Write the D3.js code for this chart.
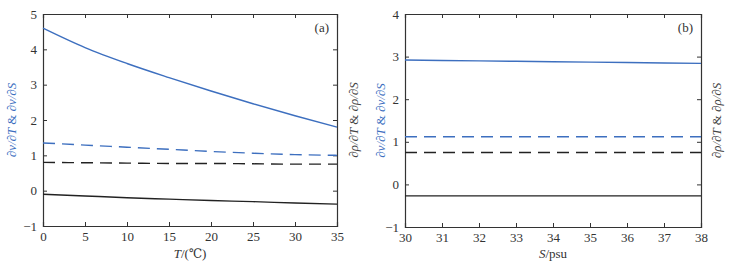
<!DOCTYPE html>
<html>
<head>
<meta charset="utf-8">
<script src="https://cdn.jsdelivr.net/npm/d3@7"></script>
<style>
  body { margin: 0; background: #fff; }
  svg text { font-family: "Liberation Serif", "DejaVu Serif Condensed", serif; font-stretch: condensed; }
</style>
</head>
<body>
<div id="chart"></div>
<script>
// panel (a): temperature
const tempValues = [0, 5, 10, 15, 20, 25, 30, 35];
const dvSolidA = [4.6, 4.05, 3.6, 3.2, 2.82, 2.46, 2.12, 1.8];
const dvDashA = [1.35, 1.29, 1.23, 1.17, 1.11, 1.06, 1.02, 1.0];
const drhoDashA = [0.8, 0.79, 0.78, 0.77, 0.77, 0.76, 0.75, 0.75];
const drhoSolidA = [-0.1, -0.15, -0.2, -0.24, -0.28, -0.31, -0.35, -0.38];
const tempTicks = [0, 5, 10, 15, 20, 25, 30, 35];
const yTicksA = [-1, 0, 1, 2, 3, 4, 5];

// panel (b): salinity
const salValues = [30, 32, 34, 36, 38];
const dvSolidB = [2.92, 2.9, 2.88, 2.86, 2.84];
const dvDashB = [1.12, 1.12, 1.12, 1.12, 1.12];
const drhoDashB = [0.75, 0.75, 0.75, 0.75, 0.75];
const drhoSolidB = [-0.27, -0.27, -0.27, -0.27, -0.27];
const salTicks = [30, 31, 32, 33, 34, 35, 36, 37, 38];
const yTicksB = [-1, 0, 1, 2, 3, 4];

const blue = '#3d6fbf';
const black = '#222';
const serif = '"Liberation Serif", "DejaVu Serif Condensed", serif';

const svg = d3.select('#chart')
  .append('svg')
  .attr('width', 738)
  .attr('height', 267);

function drawPanel(opt) {
  const x = d3.scaleLinear().domain(opt.xDomain).range([opt.left, opt.right]);
  const y = d3.scaleLinear().domain(opt.yDomain).range([opt.bottom, opt.top]);
  const g = svg.append('g');

  // 坐标轴（刻度朝内，四边都有）
  const tickLen = 4;
  g.append('g')
    .attr('transform', `translate(0,${opt.bottom})`)
    .call(d3.axisBottom(x).tickValues(opt.xTicks).tickSize(-tickLen).tickPadding(6).tickFormat(d3.format('d')));
  g.append('g')
    .attr('transform', `translate(0,${opt.top})`)
    .call(d3.axisTop(x).tickValues(opt.xTicks).tickSize(-tickLen).tickFormat(''));
  g.append('g')
    .attr('transform', `translate(${opt.left},0)`)
    .call(d3.axisLeft(y).tickValues(opt.yTicks).tickSize(-tickLen).tickPadding(6).tickFormat(d3.format('d')));
  g.append('g')
    .attr('transform', `translate(${opt.right},0)`)
    .call(d3.axisRight(y).tickValues(opt.yTicks).tickSize(-tickLen).tickFormat(''));

  g.selectAll('g').attr('font-family', serif);
  g.selectAll('.domain').attr('stroke', '#333').attr('stroke-width', 1.2);
  g.selectAll('.tick line').attr('stroke', '#333');
  g.selectAll('.tick text')
    .attr('fill', '#333')
    .style('font-size', '13px')
    .style('font-family', serif);

  const line = d3.line()
    .x(d => x(d[0]))
    .y(d => y(d[1]))
    .curve(d3.curveMonotoneX);

  opt.series.forEach(s => {
    g.append('path')
      .datum(opt.xValues.map((v, i) => [v, s.values[i]]))
      .attr('d', line)
      .attr('fill', 'none')
      .attr('stroke', s.color)
      .attr('stroke-width', 1.4)
      .attr('stroke-dasharray', s.dashed ? '12,7' : null);
  });

  // 面板标签
  g.append('text')
    .attr('x', opt.right - 8)
    .attr('y', opt.top + 18)
    .attr('text-anchor', 'end')
    .attr('fill', '#333')
    .style('font-size', '13px')
    .text(opt.panel);

  // x 轴标题
  const xl = g.append('text')
    .attr('x', (opt.left + opt.right) / 2)
    .attr('y', 258)
    .attr('text-anchor', 'middle')
    .attr('fill', '#333')
    .style('font-size', '13px');
  xl.append('tspan').style('font-style', 'italic').text(opt.xVar);
  xl.append('tspan').text(opt.xUnit);

  // 左右 y 轴标题
  const midY = (opt.top + opt.bottom) / 2;
  function yLabel(xPos, sym, color) {
    const t = g.append('text')
      .attr('transform', `translate(${xPos},${midY}) rotate(-90)`)
      .attr('text-anchor', 'middle')
      .attr('fill', color)
      .style('font-size', '13px')
      .style('font-style', 'italic');
    t.append('tspan').text(`∂${sym}/∂T `);
    t.append('tspan').style('font-style', 'normal').text('& ');
    t.append('tspan').text(`∂${sym}/∂S`);
  }
  yLabel(opt.left - opt.leftLabelGap, 'v', blue);
  yLabel(opt.right + opt.rightLabelGap, 'ρ', '#444');
}

drawPanel({
  left: 43, right: 337, top: 14, bottom: 226,
  leftLabelGap: 27, rightLabelGap: 21,
  xDomain: [0, 35], yDomain: [-1, 5],
  xTicks: tempTicks, yTicks: yTicksA, xValues: tempValues,
  panel: '(a)', xVar: 'T', xUnit: '/(℃)',
  series: [
    { values: dvSolidA, color: blue, dashed: false },
    { values: dvDashA, color: blue, dashed: true },
    { values: drhoDashA, color: black, dashed: true },
    { values: drhoSolidA, color: black, dashed: false }
  ]
});

drawPanel({
  left: 405, right: 701, top: 14, bottom: 227,
  leftLabelGap: 20, rightLabelGap: 20,
  xDomain: [30, 38], yDomain: [-1, 4],
  xTicks: salTicks, yTicks: yTicksB, xValues: salValues,
  panel: '(b)', xVar: 'S', xUnit: '/psu',
  series: [
    { values: dvSolidB, color: blue, dashed: false },
    { values: dvDashB, color: blue, dashed: true },
    { values: drhoDashB, color: black, dashed: true },
    { values: drhoSolidB, color: black, dashed: false }
  ]
});
</script>
</body>
</html>
